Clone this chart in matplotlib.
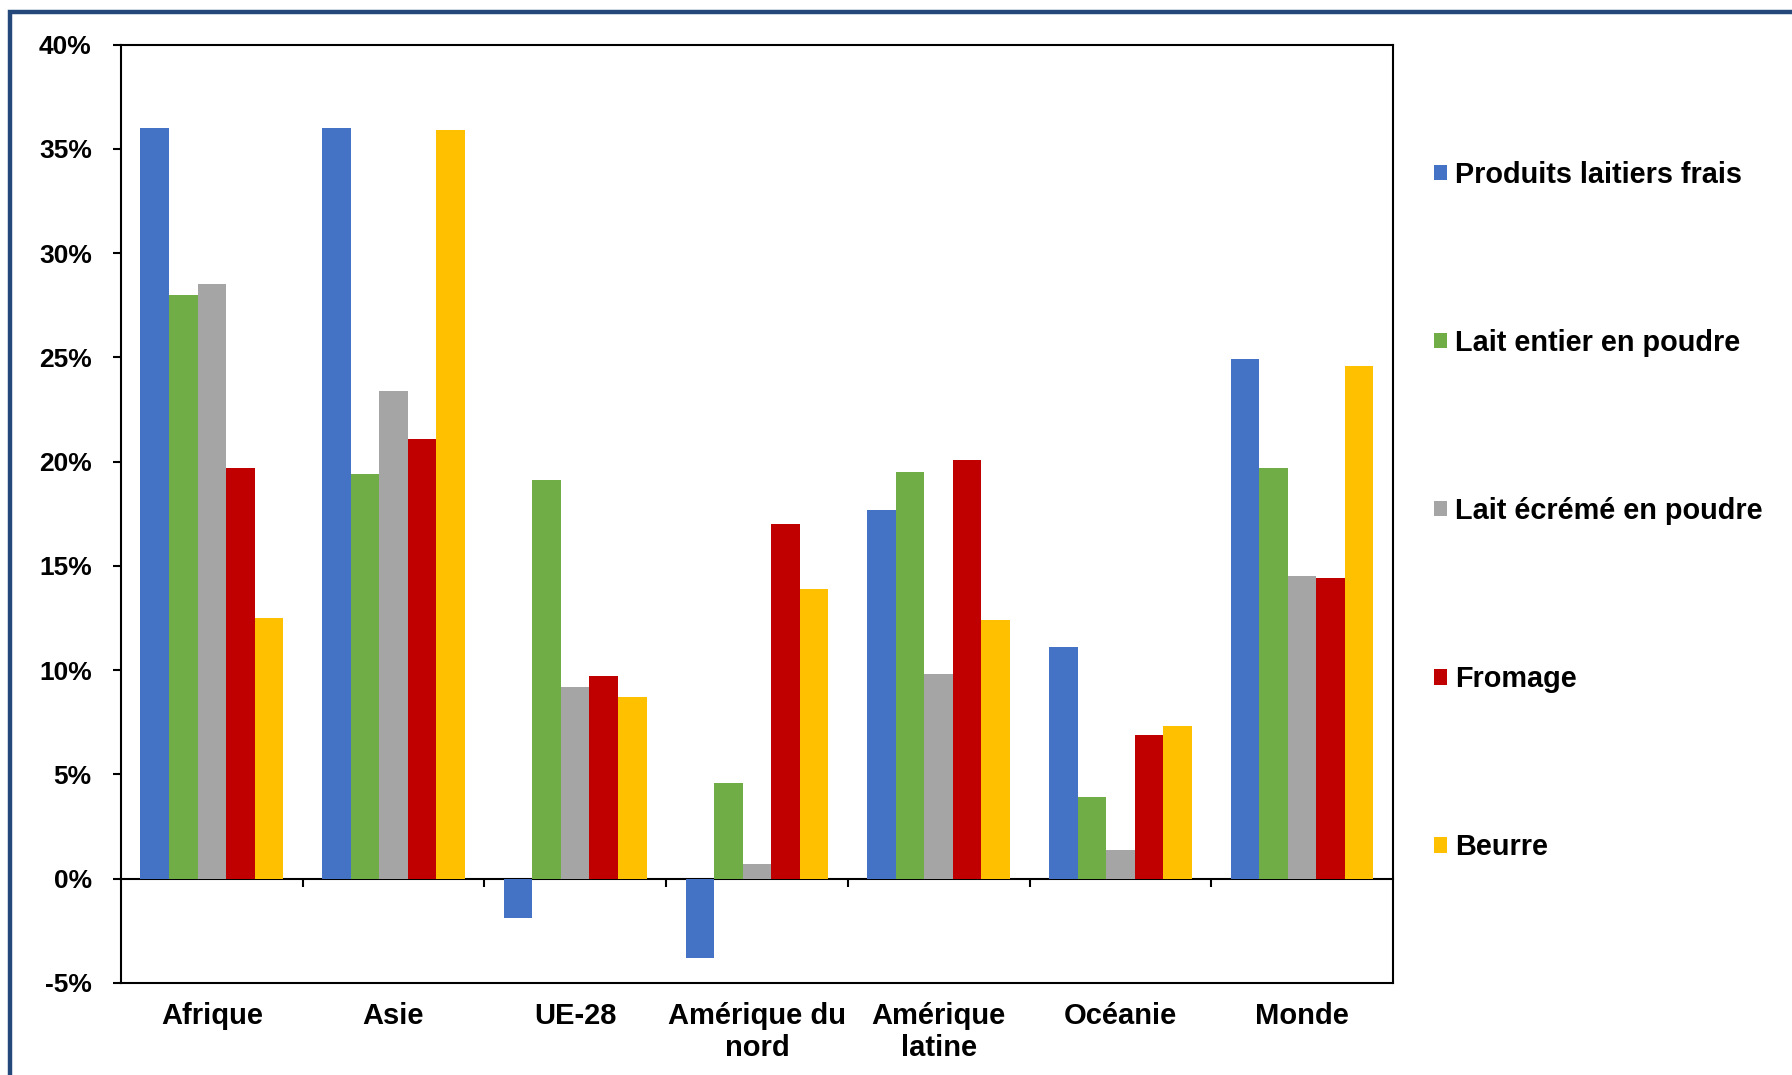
import numpy as np
import matplotlib
matplotlib.use("Agg")
import matplotlib.pyplot as plt
from matplotlib.patches import Rectangle
from matplotlib.ticker import FuncFormatter

plt.rcParams['font.family'] = ['Liberation Sans', 'DejaVu Sans']
plt.rcParams['font.weight'] = 'bold'

# data (percent)
regions = ["Afrique", "Asie", "UE-28", "Amérique du\nnord", "Amérique\nlatine", "Océanie", "Monde"]
series_names = ["Produits laitiers frais", "Lait entier en poudre", "Lait écrémé en poudre",
                "Fromage", "Beurre"]
frais = [36.0, 36.0, -1.9, -3.8, 17.7, 11.1, 24.9]
entier = [28.0, 19.4, 19.1, 4.6, 19.5, 3.9, 19.7]
ecreme = [28.5, 23.4, 9.2, 0.7, 9.8, 1.4, 14.5]
fromage = [19.7, 21.1, 9.7, 17.0, 20.1, 6.9, 14.4]
beurre = [12.5, 35.9, 8.7, 13.9, 12.4, 7.3, 24.6]
yticks = [-5, 0, 5, 10, 15, 20, 25, 30, 35, 40]

colors = ['#4472C4', '#70AD47', '#A5A5A5', '#C00000', '#FFC000']

fig = plt.figure(figsize=(17.92, 10.75), dpi=100)
ax = fig.add_axes([0.0675, 0.0856, 0.7098, 0.873])

x = np.arange(len(regions))
w = 0.157
for i, (vals, name) in enumerate(zip([frais, entier, ecreme, fromage, beurre], series_names)):
    ax.bar(x + (i - 2) * w, vals, width=w, color=colors[i], label=name, zorder=2)

ax.set_xlim(-0.5, len(regions) - 0.5)
ax.set_ylim(-5, 40)
ax.set_yticks(yticks)
ax.yaxis.set_major_formatter(FuncFormatter(lambda v, p: f"{v:.0f}%"))
ax.tick_params(axis='y', direction='out', length=6, width=1.5, pad=15, labelsize=19)
ax.set_xticks(x)
ax.set_xticklabels(regions, fontsize=21, linespacing=1.15)
ax.tick_params(axis='x', length=0, pad=14)
for s in ax.spines.values():
    s.set_linewidth(1.5)
    s.set_color('black')

# category axis crossing at 0 with separator ticks
sec = ax.secondary_xaxis((0 - (-5)) / 45)
sec.set_xticks(np.arange(0.5, len(regions) - 0.5, 1))
sec.tick_params(direction='out', length=6, width=1.5, labelbottom=False, labeltop=False)
sec.spines['bottom'].set_linewidth(1.5)
sec.spines['top'].set_linewidth(1.5)

ax.legend(loc='center left', bbox_to_anchor=(0.800, 0.5247), bbox_transform=fig.transFigure,
          frameon=False, handlelength=0.45, handleheight=0.45, handletextpad=0.3,
          labelspacing=4.85, borderpad=0, borderaxespad=0, fontsize=20.8)

# outer frame
fig.add_artist(Rectangle((0.0055, -0.1), 2, 0.9885 + 0.1, transform=fig.transFigure,
                         fill=False, edgecolor='#24487A', linewidth=3.2))

fig.savefig("out.png", dpi=100)
